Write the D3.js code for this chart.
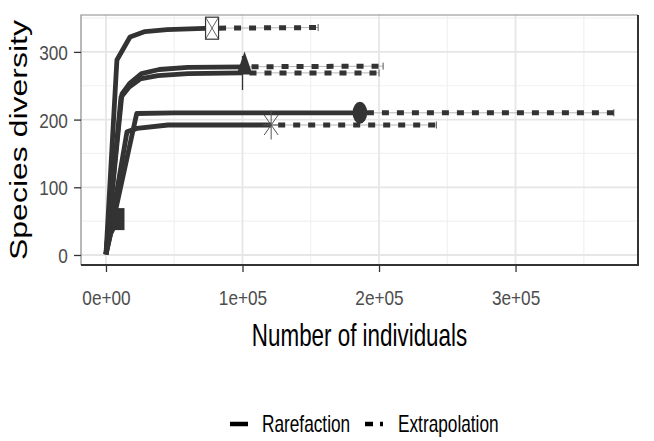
<meta charset="utf-8">
<html>
<head>
<style>
body { margin: 0; background: #fff; }
svg { display: block; font-family: "Liberation Sans", Arial, sans-serif; }
.axis path { display: none; }
.axis line { stroke: #333; stroke-width: 1.3; }
.axis text { fill: #4d4d4d; font-size: 21px; }
.axistitle { fill: #000; font-size: 32px; }
.legtext { fill: #000; font-size: 23px; }
</style>
</head>
<body>
<svg width="654" height="441"></svg>

<script src="https://d3js.org/d3.v7.min.js"></script>
<script>

// tick values / labels
var xTicks = [0, 100000, 200000, 300000];
var xTickLabels = ["0e+00", "1e+05", "2e+05", "3e+05"];
var yTicks = [0, 100, 200, 300];

// one entry per assemblage
var shapes = ["squarecross", "triangle", "plus", "circle", "asterisk", "square"];

// rarefaction part (sample size m, estimated species)
var rareM = [
  [1, 8000, 17600, 28600, 44700, 77700],
  [1, 11700, 17600, 26000, 39000, 60000, 101500],
  [1, 11000, 17000, 25000, 38000, 60000, 100000],
  [1, 22500, 50000, 186000],
  [1, 15400, 22700, 45400, 121000],
  [1, 3500, 8800]
];
var rareS = [
  [1, 288, 322, 330, 333, 335],
  [1, 238, 254, 268, 274, 277, 278],
  [1, 233, 248, 260, 265, 268, 269],
  [1, 209, 210, 210],
  [1, 182, 187, 192, 192],
  [1, 32, 53]
];

// extrapolation part (from observed sample onwards)
var extM = [
  [77700, 155400],
  [101500, 203000],
  [100000, 200000],
  [186000, 372000],
  [121000, 242000],
  [8800, 12000]
];
var extS = [
  [335, 336],
  [278, 279],
  [269, 269],
  [210, 210],
  [192, 192],
  [53, 54]
];

var svg = d3.select("svg"),
    margin = {top: 15, right: 16, bottom: 176, left: 81},
    width = +svg.attr("width") - margin.left - margin.right,
    height = +svg.attr("height") - margin.top - margin.bottom;

var x = d3.scaleLinear().domain([-18300, 389700]).range([0, width]),
    y = d3.scaleLinear().domain([-14.8, 354.5]).range([height, 0]);

var g = svg.append("g")
    .attr("transform", "translate(" + margin.left + "," + margin.top + ")");

/* grid */
var xMinor = [50000, 150000, 250000, 350000],
    yMinor = [50, 150, 250, 350];

g.selectAll(".gx2").data(xMinor).enter().append("line")
    .attr("x1", function(d) { return x(d); }).attr("x2", function(d) { return x(d); })
    .attr("y1", 0).attr("y2", height)
    .attr("stroke", "#f1f1f1").attr("stroke-width", 1.2);
g.selectAll(".gy2").data(yMinor).enter().append("line")
    .attr("y1", function(d) { return y(d); }).attr("y2", function(d) { return y(d); })
    .attr("x1", 0).attr("x2", width)
    .attr("stroke", "#f1f1f1").attr("stroke-width", 1.2);
g.selectAll(".gx").data(xTicks).enter().append("line")
    .attr("x1", function(d) { return x(d); }).attr("x2", function(d) { return x(d); })
    .attr("y1", 0).attr("y2", height)
    .attr("stroke", "#e6e6e6").attr("stroke-width", 1.8);
g.selectAll(".gy").data(yTicks).enter().append("line")
    .attr("y1", function(d) { return y(d); }).attr("y2", function(d) { return y(d); })
    .attr("x1", 0).attr("x2", width)
    .attr("stroke", "#e6e6e6").attr("stroke-width", 1.8);

/* extrapolation: thin band line + dashes */
var line = d3.line()
    .x(function(d) { return x(d[0]); })
    .y(function(d) { return y(d[1]); });

extM.forEach(function(m, i) {
  var pts = m.map(function(v, j) { return [v, extS[i][j]]; });
  g.append("path")
      .attr("d", line(pts))
      .attr("fill", "none")
      .attr("stroke", "#b5b5b5")
      .attr("stroke-width", 1);
  var last = pts[pts.length - 1];
  g.append("line")
      .attr("x1", x(last[0])).attr("x2", x(last[0]))
      .attr("y1", y(last[1]) - 3.5).attr("y2", y(last[1]) + 3.5)
      .attr("stroke", "#555").attr("stroke-width", 1);
  g.append("path")
      .attr("d", line(pts))
      .attr("fill", "none")
      .attr("stroke", "#333")
      .attr("stroke-width", 5)
      .attr("stroke-dasharray", "7,8")
      .attr("stroke-dashoffset", -7);
});

/* rarefaction */
rareM.forEach(function(m, i) {
  var pts = m.map(function(v, j) { return [v, rareS[i][j]]; });
  g.append("path")
      .attr("d", line(pts))
      .attr("fill", "none")
      .attr("stroke", "#333")
      .attr("stroke-width", 4.8)
      .attr("stroke-linejoin", "round");
});

/* observed points */
function marker(sel, type) {
  if (type == "squarecross") {
    sel.append("rect").attr("x", -6.5).attr("y", -11).attr("width", 13).attr("height", 22)
        .attr("fill", "#fff").attr("stroke", "#333").attr("stroke-width", 1.2);
    sel.append("path").attr("d", "M-6.5,-11L6.5,11M6.5,-11L-6.5,11")
        .attr("stroke", "#555").attr("stroke-width", 0.9);
  } else if (type == "triangle") {
    sel.append("path").attr("d", "M0,-15.3L8,7.7L-8,7.7Z").attr("fill", "#333");
  } else if (type == "plus") {
    sel.append("path").attr("d", "M0,-17V17M-10,0H10")
        .attr("stroke", "#333").attr("stroke-width", 1.3);
  } else if (type == "circle") {
    sel.append("ellipse").attr("rx", 7.3).attr("ry", 11).attr("fill", "#333");
  } else if (type == "asterisk") {
    sel.append("path").attr("d", "M0,-14.5V14.5M-8,0H8M-7,-10L7,10M7,-10L-7,10")
        .attr("stroke", "#555").attr("stroke-width", 1);
  } else {
    sel.append("rect").attr("x", -6.5).attr("y", -11).attr("width", 13).attr("height", 22)
        .attr("fill", "#333");
  }
}

shapes.forEach(function(s, i) {
  var m = rareM[i][rareM[i].length - 1],
      v = rareS[i][rareS[i].length - 1];
  var mk = g.append("g").attr("transform", "translate(" + x(m) + "," + y(v) + ")");
  marker(mk, s);
});

/* panel border */
g.append("path")
    .attr("d", "M0," + height + "V0H" + width)
    .attr("fill", "none").attr("stroke", "#8a8a8a").attr("stroke-width", 1.2);
g.append("path")
    .attr("d", "M0," + height + "H" + width + "V0")
    .attr("fill", "none").attr("stroke", "#333").attr("stroke-width", 2);

/* axes */
g.append("g")
    .attr("class", "axis axis--x")
    .attr("transform", "translate(0," + height + ")")
    .call(d3.axisBottom(x).tickValues(xTicks).tickSize(7)
          .tickFormat(function(d, i) { return xTickLabels[i]; }))
    .selectAll("text")
    .attr("y", 40).attr("dy", 0)
    .attr("transform", "scale(0.82,1)");

g.append("g")
    .attr("class", "axis axis--y")
    .call(d3.axisLeft(y).tickValues(yTicks).tickSize(7))
    .selectAll("text")
    .attr("x", -16)
    .attr("dy", "0.36em")
    .attr("transform", "scale(0.82,1)");

/* titles */
svg.append("text")
    .attr("class", "axistitle")
    .attr("text-anchor", "middle")
    .attr("transform", "translate(" + (margin.left + width / 2) + ",346) scale(0.7,1)")
    .text("Number of individuals");

svg.append("text")
    .attr("class", "axistitle")
    .attr("text-anchor", "middle")
    .attr("transform", "translate(27," + (margin.top + height / 2) + ") rotate(-90) scale(1,0.72)")
    .text("Species diversity");

/* legend */
var leg = svg.append("g").attr("transform", "translate(0,424)");
leg.append("line").attr("x1", 230).attr("x2", 248).attr("y1", 0).attr("y2", 0)
    .attr("stroke", "#000").attr("stroke-width", 4.5);
leg.append("text").attr("class", "legtext")
    .attr("transform", "translate(262,8) scale(0.75,1)")
    .text("Rarefaction");
leg.append("line").attr("x1", 365).attr("x2", 383).attr("y1", 0).attr("y2", 0)
    .attr("stroke", "#000").attr("stroke-width", 4.5)
    .attr("stroke-dasharray", "8,7");
leg.append("text").attr("class", "legtext")
    .attr("transform", "translate(398,8) scale(0.75,1)")
    .text("Extrapolation");

</script>
</body>
</html>
